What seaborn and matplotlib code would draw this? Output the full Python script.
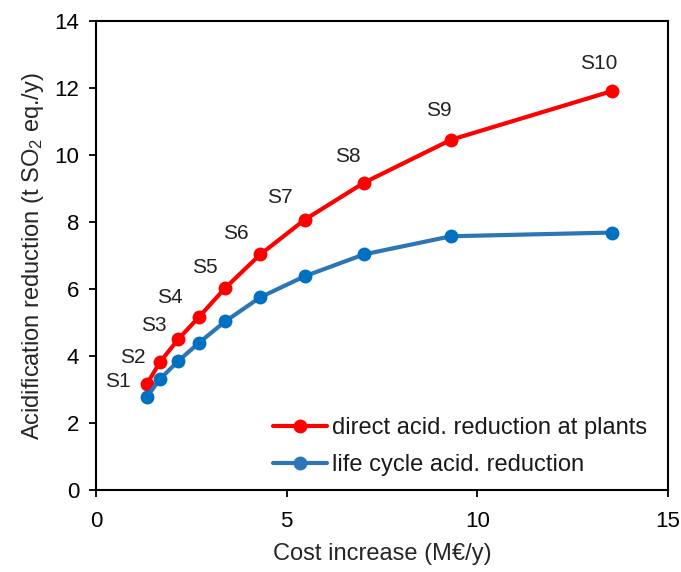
import pandas as pd
import seaborn as sb
import matplotlib.pyplot as plt

# values
scenarios = ['S1', 'S2', 'S3', 'S4', 'S5', 'S6', 'S7', 'S8', 'S9', 'S10']
cost_increase = [1.33, 1.68, 2.16, 2.70, 3.39, 4.31, 5.48, 7.03, 9.31, 13.52]
direct_reduction = [3.16, 3.83, 4.51, 5.17, 6.04, 7.04, 8.08, 9.18, 10.46, 11.91]
lifecycle_reduction = [2.78, 3.32, 3.86, 4.40, 5.04, 5.76, 6.39, 7.04, 7.58, 7.69]
series_names = ['direct acid. reduction at plants', 'life cycle acid. reduction']

# label offsets (points) for the scenario names
label_dx = [-21, -20, -18, -21, -15, -18, -18, -12, -9, -9]
label_dy = [2, 3, 10, 14, 15, 15, 16, 19, 21, 20]

sb.set_style('white')
plt.rcParams['font.family'] = ['Liberation Sans', 'DejaVu Sans']
plt.rcParams['mathtext.fontset'] = 'custom'
plt.rcParams['mathtext.rm'] = 'Liberation Sans'
plt.rcParams['mathtext.it'] = 'Liberation Sans:italic'

df = pd.DataFrame({
    'cost': cost_increase * 2,
    'reduction': direct_reduction + lifecycle_reduction,
    'series': [series_names[0]] * len(scenarios) + [series_names[1]] * len(scenarios),
})

fig = plt.figure(figsize=(6.81, 5.72), dpi=100)
ax = fig.add_axes([0.141, 0.143, 0.840, 0.820])

sb.lineplot(data=df, x='cost', y='reduction', hue='series', sort=False,
            palette=['#FF0000', '#2E75B6'], marker='o', markersize=10,
            markeredgewidth=0, linewidth=3, ax=ax)
ax.lines[1].set_markerfacecolor('#0070C0')

for name, x, y, dx, dy in zip(scenarios, cost_increase, direct_reduction, label_dx, label_dy):
    ax.annotate(name, (x, y), xytext=(dx, dy), textcoords='offset points',
                ha='center', va='center', fontsize=15, color='#222222')

ax.set_xlim(0, 15)
ax.set_ylim(0, 14)
ax.set_xticks([0, 5, 10, 15])
ax.set_yticks(range(0, 15, 2))
ax.tick_params(axis='both', which='both', direction='out', length=5, width=1.3,
               labelsize=16, left=True, bottom=True, colors='black', pad=7)
ax.tick_params(axis='x', pad=10)
for sp in ax.spines.values():
    sp.set_color('black')
    sp.set_linewidth(1.5)

ax.set_xlabel('Cost increase (M€/y)', fontsize=17, labelpad=8)
ax.set_ylabel(r'Acidification reduction (t SO$_2$ eq./y)', fontsize=17, labelpad=6)

leg = ax.legend(loc='lower right', bbox_to_anchor=(1.0, -0.015), frameon=False,
                fontsize=17, handlelength=2.3, handletextpad=0.2, labelspacing=0.62)
for h in leg.get_lines():
    h.set_linewidth(3)
for t in leg.get_texts():
    t.set_color('#1a1a1a')

fig.savefig('out.png', dpi=100)
